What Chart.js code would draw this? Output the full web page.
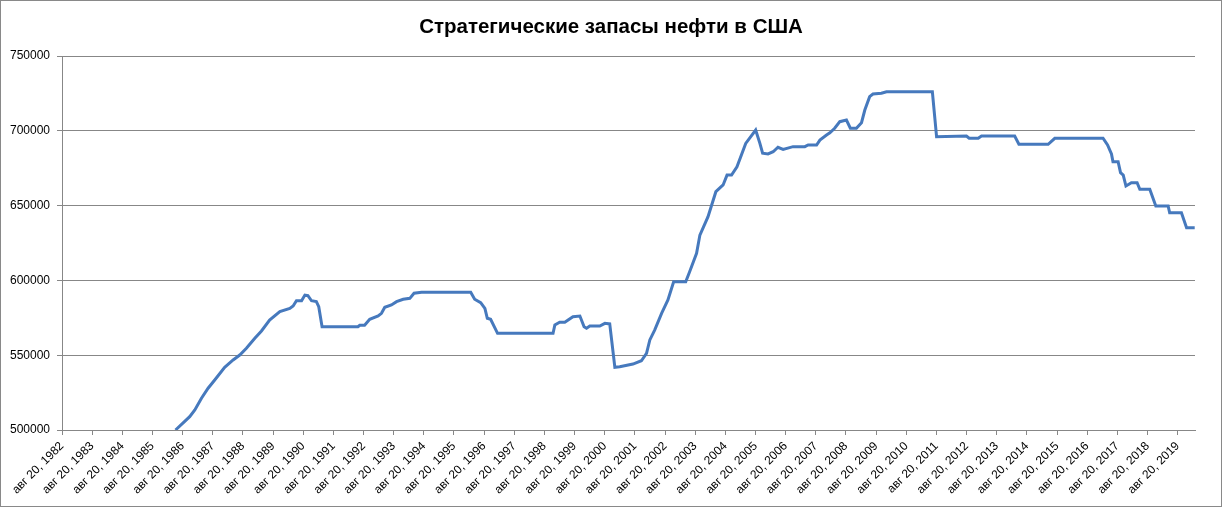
<!DOCTYPE html>
<html>
<head>
<meta charset="utf-8">
<script src="https://cdn.jsdelivr.net/npm/chart.js@4"></script>
<style>
  body { margin: 0; background: #fff; }
  #wrap { width: 1220px; height: 505px; border: 1px solid #898989; }
  canvas { display: block; }
</style>
</head>
<body>
<div id="wrap"><canvas id="myChart" width="1220" height="505"></canvas></div>
<script>
// даты в долях года, запасы в тыс. баррелей
const dates = [1986.40, 1986.87, 1987.04, 1987.26, 1987.48, 1987.70, 1988.03, 1988.31, 1988.53, 1988.75,
  1989.03, 1989.25, 1989.52, 1989.86, 1990.19, 1990.30, 1990.41, 1990.58, 1990.69, 1990.79,
  1990.91, 1991.07, 1991.15, 1991.26, 1992.45, 1992.51, 1992.67, 1992.84, 1993.12, 1993.23,
  1993.34, 1993.56, 1993.73, 1993.95, 1994.17, 1994.31, 1994.56, 1996.19, 1996.32, 1996.52,
  1996.66, 1996.74, 1996.85, 1997.08, 1998.92, 1998.98, 1999.14, 1999.31, 1999.58, 1999.81,
  1999.95, 2000.03, 2000.14, 2000.47, 2000.64, 2000.80, 2000.97, 2001.13, 2001.57, 2001.85,
  2002.02, 2002.13, 2002.29, 2002.52, 2002.73, 2002.92, 2003.32, 2003.45, 2003.68, 2003.79,
  2004.06, 2004.32, 2004.56, 2004.69, 2004.84, 2005.02, 2005.31, 2005.64, 2005.78, 2005.87,
  2006.05, 2006.22, 2006.38, 2006.55, 2006.88, 2007.27, 2007.38, 2007.66, 2007.77, 2007.99,
  2008.10, 2008.26, 2008.43, 2008.65, 2008.78, 2008.98, 2009.15, 2009.26, 2009.42, 2009.53,
  2009.81, 2009.98, 2011.50, 2011.64, 2012.63, 2012.72, 2013.02, 2013.13, 2014.23, 2014.37,
  2015.34, 2015.56, 2017.16, 2017.31, 2017.44, 2017.49, 2017.66, 2017.74, 2017.83, 2017.92,
  2018.10, 2018.29, 2018.38, 2018.71, 2018.91, 2019.32, 2019.37, 2019.76, 2019.93, 2020.20];

const reserves = [500000, 508900, 513400, 521200, 527900, 533400, 541900, 546800, 550100, 554600,
  561300, 566200, 573500, 579100, 581300, 582900, 586400, 586400, 590200, 589800,
  586400, 585800, 582400, 569000, 569000, 570000, 570000, 574000, 576200, 578000,
  582000, 583600, 585800, 587400, 588000, 591400, 592000, 592000, 587400, 585100,
  581300, 574700, 574000, 564600, 564600, 570200, 572000, 572000, 575700, 576200,
  569000, 568000, 569500, 569500, 571300, 570900, 541900, 542300, 544100, 546300,
  551300, 560200, 566800, 578000, 586900, 599100, 599100, 605800, 618100, 630300,
  642600, 659300, 663800, 670400, 670400, 676000, 691600, 700500, 691600, 685000,
  684500, 686000, 689000, 687600, 689400, 689400, 690500, 690500, 693800, 697200,
  698700, 701700, 706100, 707200, 701700, 701700, 705400, 713900, 722800, 724600,
  725100, 726100, 726100, 696000, 696500, 695000, 695000, 696500, 696500, 691000,
  691000, 695000, 695000, 690500, 684500, 679300, 679300, 672000, 670400, 663100,
  665300, 665300, 660900, 660900, 649700, 649700, 645200, 645200, 635200, 635200];

const tickLabels = ['авг 20, 1982', 'авг 20, 1983', 'авг 20, 1984', 'авг 20, 1985', 'авг 20, 1986',
  'авг 20, 1987', 'авг 20, 1988', 'авг 20, 1989', 'авг 20, 1990', 'авг 20, 1991', 'авг 20, 1992',
  'авг 20, 1993', 'авг 20, 1994', 'авг 20, 1995', 'авг 20, 1996', 'авг 20, 1997', 'авг 20, 1998',
  'авг 20, 1999', 'авг 20, 2000', 'авг 20, 2001', 'авг 20, 2002', 'авг 20, 2003', 'авг 20, 2004',
  'авг 20, 2005', 'авг 20, 2006', 'авг 20, 2007', 'авг 20, 2008', 'авг 20, 2009', 'авг 20, 2010',
  'авг 20, 2011', 'авг 20, 2012', 'авг 20, 2013', 'авг 20, 2014', 'авг 20, 2015', 'авг 20, 2016',
  'авг 20, 2017', 'авг 20, 2018', 'авг 20, 2019'];

const chartTitle = 'Стратегические запасы нефти в США';
const xStart = 1982.635; // 20 августа 1982
const xEnd = 2020.21;
const gridColor = '#878787';

const points = dates.map((d, i) => ({ x: d, y: reserves[i] }));

// заголовок по центру всего холста, а не области с отступами
const titlePlugin = {
  id: 'centerTitle',
  afterDraw(chart) {
    const ctx = chart.ctx;
    ctx.save();
    ctx.font = 'bold 20.5px "Liberation Sans"';
    ctx.fillStyle = '#000';
    ctx.textAlign = 'center';
    ctx.textBaseline = 'middle';
    ctx.fillText(chartTitle, chart.width / 2, 26.3);
    ctx.restore();
  }
};

const config = {
  type: 'line',
  data: {
    datasets: [{
      label: 'Запасы',
      data: points,
      borderColor: '#4679BD',
      borderWidth: 3,
      pointRadius: 0,
      tension: 0,
      fill: false
    }]
  },
  options: {
    responsive: false,
    animation: false,
    layout: { padding: { left: 0, right: 26, top: 55, bottom: 0 } },
    plugins: {
      legend: { display: false },
      tooltip: { enabled: false },
      title: { display: false }
    },
    scales: {
      x: {
        type: 'linear',
        min: xStart,
        max: xEnd,
        afterBuildTicks: (scale) => {
          scale.ticks = tickLabels.map((_, i) => ({ value: xStart + i }));
        },
        afterFit: (scale) => { scale.height = 76; },
        grid: { drawOnChartArea: false, drawTicks: true, tickLength: 5, color: gridColor },
        border: { display: true, color: gridColor, width: 1 },
        ticks: {
          autoSkip: false,
          minRotation: 45,
          maxRotation: 45,
          padding: 4,
          color: '#000',
          font: { family: 'Liberation Sans', size: 12 },
          callback: (value, index) => tickLabels[index]
        }
      },
      y: {
        min: 500000,
        max: 750000,
        afterFit: (scale) => { scale.width = 61; },
        grid: { color: gridColor, tickLength: 5 },
        border: { display: true, color: gridColor, width: 1 },
        ticks: {
          stepSize: 50000,
          padding: 7,
          color: '#000',
          font: { family: 'Liberation Sans', size: 12 },
          callback: (value) => String(value)
        }
      }
    }
  },
  plugins: [titlePlugin]
};

new Chart(document.getElementById('myChart'), config);
</script>
</body>
</html>
